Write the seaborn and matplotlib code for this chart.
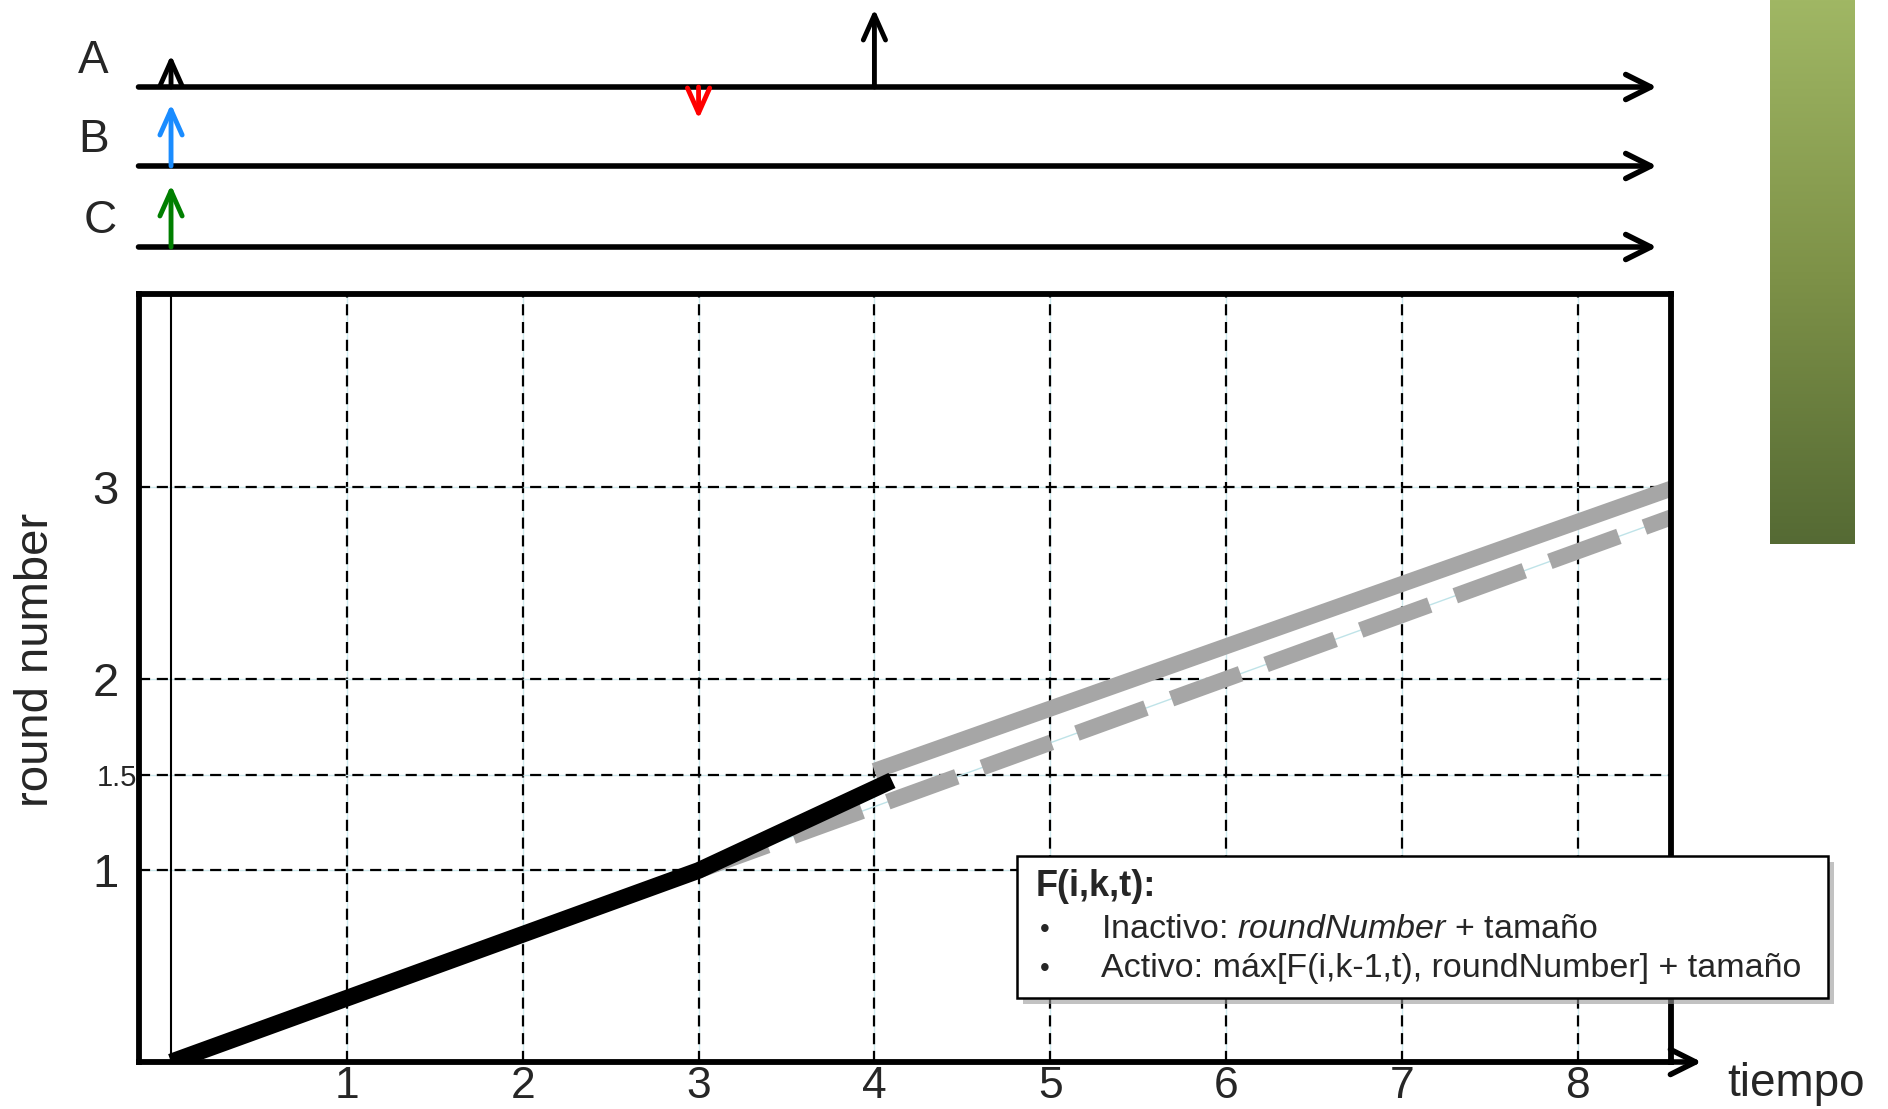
import numpy as np
import pandas as pd
import matplotlib.pyplot as plt
import seaborn as sns
from matplotlib.colors import LinearSegmentedColormap
from matplotlib.patches import Rectangle

sns.set_style("white")
plt.rcParams['font.family'] = ['Liberation Sans', 'DejaVu Sans']
plt.rcParams['mathtext.fontset'] = 'custom'
plt.rcParams['mathtext.it'] = 'Liberation Sans:italic'
plt.rcParams['mathtext.rm'] = 'Liberation Sans'

# --- data ---
# round number vs time, black = real, gray = projected
t_real = [0, 3, 4.1]
r_real = [0, 1, 1.47]
t_inact = [4, 8.55]
r_inact = [1.52, 3.0]
t_act = [3, 8.55]
r_act = [1.0, 2.85]

xticks = [1, 2, 3, 4, 5, 6, 7, 8]
yticks = [1, 1.5, 2, 3]
ytick_labels = ['1', '1.5', '2', '3']

# timelines on top (rows in pixel-like units, 0 = top)
rows = ['A', 'B', 'C']
row_level = [87, 166, 247]
ev_row = ['A', 'A', 'A', 'B', 'C']
ev_time = [0, 4, 3, 0, 0]
ev_len = [32, 78, -32, 62, 62]
ev_color = ['black', 'black', '#ff0000', '#1a8cff', '#007f00']

legend_title = 'F(i,k,t):'
legend_lines = ['Inactivo: $\\it{roundNumber}$ + tamaño',
                'Activo: máx[F(i,k-1,t), roundNumber] + tamaño']

W, H = 1888, 1109
fig = plt.figure(figsize=(W / 100, H / 100), dpi=100)

xmin, xmax = -0.185, 8.53
ax = fig.add_axes([138.5 / W, 1 - 1062 / H, (1671 - 138.5) / W, (1062 - 294) / H])
ax.set_xlim(xmin, xmax)
ax.set_ylim(0, 4.01)

# grid
for x in xticks:
    ax.axvline(x, color='#cfeaee', lw=1, zorder=1)
    ax.axvline(x, color='black', lw=1.6, ls=(0, (5, 3)), zorder=1)
for y in yticks:
    ax.axhline(y, color='#cfeaee', lw=1, zorder=1)
    ax.axhline(y, color='black', lw=1.6, ls=(0, (5, 3)), zorder=1)
ax.axvline(0, color='black', lw=1.5, zorder=1)

df_act = pd.DataFrame({'t': t_act, 'r': r_act})
df_inact = pd.DataFrame({'t': t_inact, 'r': r_inact})
df_real = pd.DataFrame({'t': t_real, 'r': r_real})
sns.lineplot(data=df_act, x='t', y='r', ax=ax, color='#bfe3e8', lw=1, zorder=2)
sns.lineplot(data=df_act, x='t', y='r', ax=ax, color='#a6a6a6', lw=11.5, zorder=3,
             solid_capstyle='butt')
ax.lines[-1].set_linestyle((0, (4.6, 1.7)))
ax.lines[-1].set_dash_capstyle('butt')
sns.lineplot(data=df_inact, x='t', y='r', ax=ax, color='#a6a6a6', lw=11.5, zorder=3,
             solid_capstyle='butt')
sns.lineplot(data=df_real, x='t', y='r', ax=ax, color='black', lw=12, zorder=4,
             solid_capstyle='butt')

for s in ax.spines.values():
    s.set_linewidth(4.2)
    s.set_color('black')
    s.set_zorder(5)

ax.set_xticks(xticks)
ax.set_xticklabels([str(x) for x in xticks])
ax.set_yticks(yticks)
ax.set_yticklabels(ytick_labels)
ax.tick_params(axis='x', length=0, pad=3, labelsize=32)
ax.tick_params(axis='y', length=0, pad=14, labelsize=34)
for tk, lab in zip(ax.yaxis.get_major_ticks(), ytick_labels):
    if lab == '1.5':
        tk.label1.set_fontsize(21)
        tk.tick1line.set_markersize(7)
        tk.tick1line.set_markeredgewidth(1.2)
        tk.set_pad(1)
ax.set_xlabel('')
ax.set_ylabel('')
fig.text(36 / W, 1 - 660 / H, 'round number', fontsize=34, rotation=90,
         ha='center', va='center')

# x axis arrow
ax.annotate('', xy=(8.72, 0), xytext=(xmax - 0.02, 0),
            arrowprops=dict(arrowstyle='->, head_length=0.9, head_width=0.45',
                            lw=4, color='black', mutation_scale=20),
            annotation_clip=False, zorder=6)
fig.text(1796 / W, 1 - 1084 / H, 'tiempo', fontsize=33, ha='center', va='center')

# top timelines
axt = fig.add_axes([138.5 / W, 1 - 277 / H, (1671 - 138.5) / W, 277 / H])
axt.set_xlim(xmin, xmax)
axt.set_ylim(277, 0)
axt.axis('off')
for name, lev, dx in zip(rows, row_level, [0, 0, 0.04]):
    axt.annotate('', xy=(8.45, lev), xytext=(xmin, lev),
                 arrowprops=dict(arrowstyle='->, head_length=0.9, head_width=0.45',
                                 lw=4, color='black', mutation_scale=20,
                                 shrinkA=0, shrinkB=0))
    axt.text(-0.44 + dx, lev - 26, name, fontsize=33, ha='center', va='center')
for r, t, ln, c in zip(ev_row, ev_time, ev_len, ev_color):
    lev = row_level[rows.index(r)]
    axt.annotate('', xy=(t, lev - ln), xytext=(t, lev),
                 arrowprops=dict(arrowstyle='->, head_length=0.9, head_width=0.4',
                                 lw=3.5, color=c, mutation_scale=20,
                                 shrinkA=0, shrinkB=0))

# green bar
axg = fig.add_axes([1770 / W, 1 - 544 / H, 85 / W, 544 / H])
cmap = LinearSegmentedColormap.from_list('g', ['#a0b764', '#7e9248', '#556a34'])
axg.imshow(np.linspace(0, 1, 256).reshape(-1, 1), aspect='auto', cmap=cmap)
axg.axis('off')

# legend box
bx0, by0, bx1, by1 = 1017, 856, 1828, 998
fig.patches.append(Rectangle(((bx0 + 6) / W, 1 - (by1 + 6) / H), (bx1 - bx0) / W, (by1 - by0) / H,
                             transform=fig.transFigure, facecolor='#9a9a9a', edgecolor='none',
                             alpha=0.6, zorder=8))
fig.patches.append(Rectangle((bx0 / W, 1 - by1 / H), (bx1 - bx0) / W, (by1 - by0) / H,
                             transform=fig.transFigure, facecolor='white', edgecolor='black',
                             lw=1.8, zorder=9))
narrow = ['Liberation Sans Narrow', 'Liberation Sans', 'DejaVu Sans']
fig.text(1036 / W, 1 - 887 / H, legend_title, fontsize=26, fontweight='bold',
         family=narrow, va='center', zorder=10)
for i, line in enumerate(legend_lines):
    y = 1 - (930 + 39 * i) / H
    fig.text(1040 / W, y, '•', fontsize=20, family=narrow, va='center', zorder=10)
    fig.text(1101 / W, y, line, fontsize=24.5, family=narrow, va='center', zorder=10)

fig.savefig('out.png', dpi=100)
